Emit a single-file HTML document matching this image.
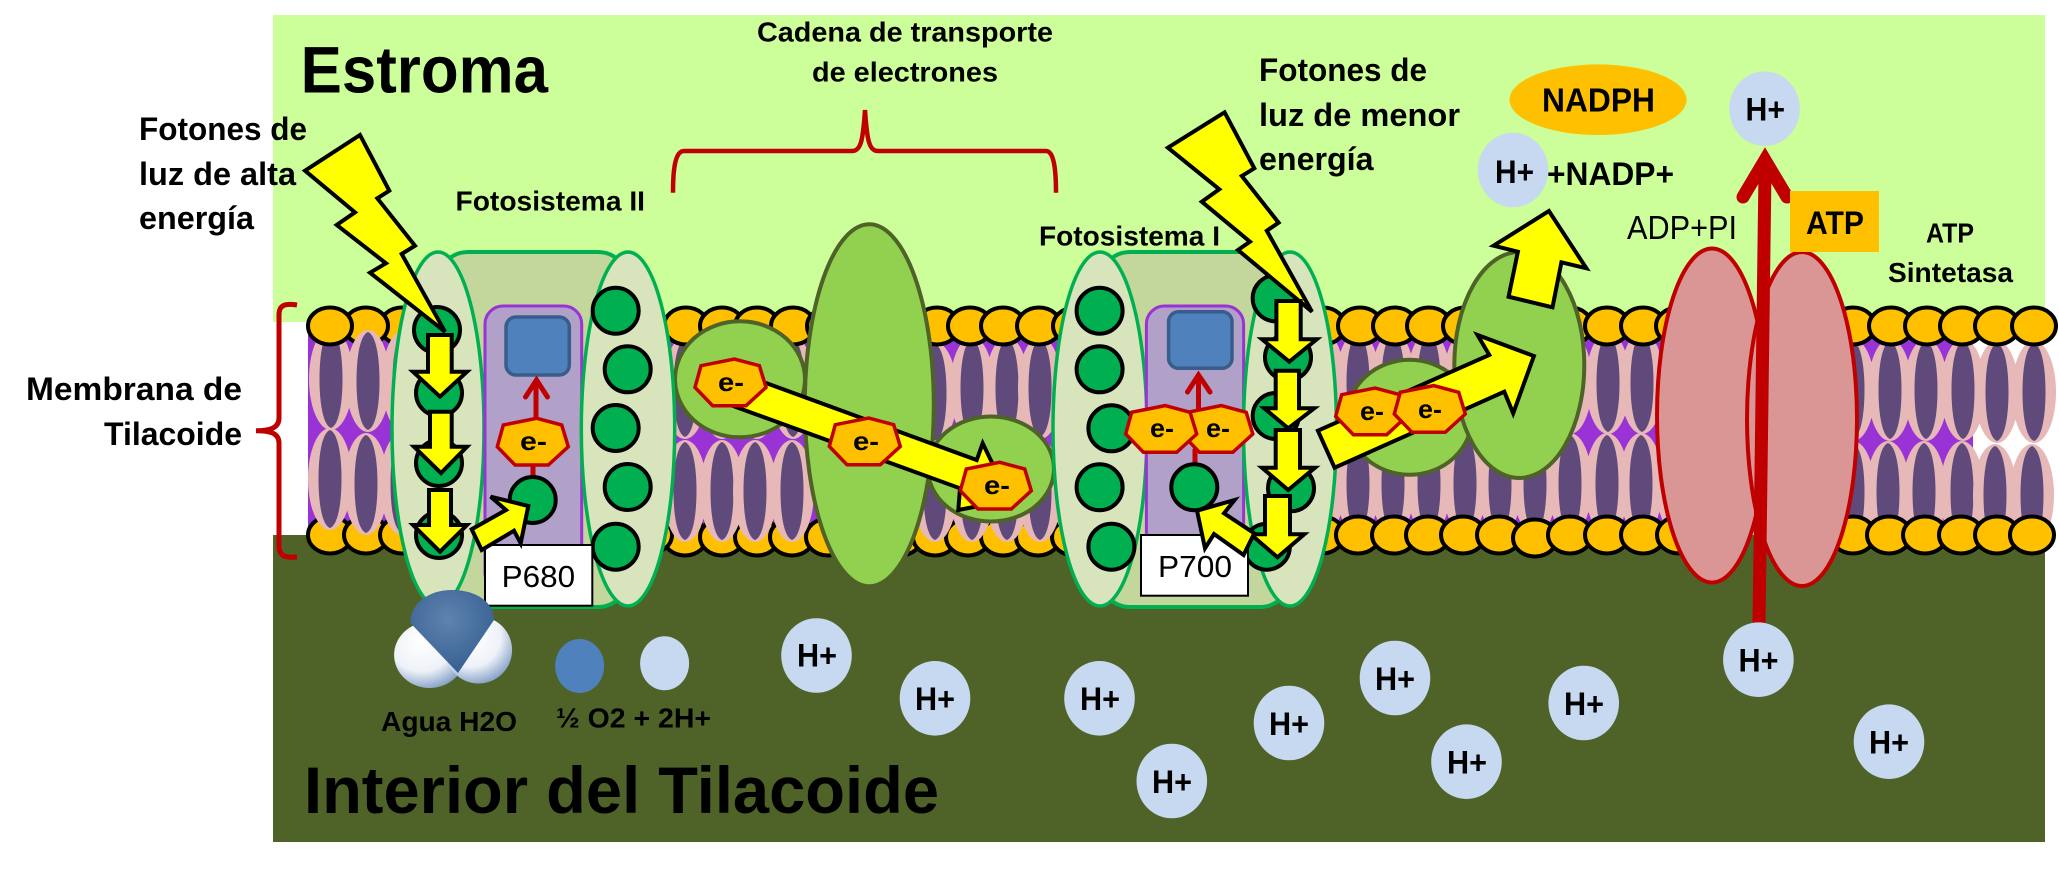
<!DOCTYPE html>
<html><head><meta charset="utf-8"><title>Membrana de Tilacoide</title>
<style>
html,body{margin:0;padding:0;background:#fff}
svg{display:block}
text{font-family:"Liberation Sans",sans-serif;fill:#000}
.b{font-weight:bold}
.s32{font-size:32px}.s28{font-size:28px}.s66{font-size:66px}.s26{font-size:26px}
</style></head><body>
<svg width="2059" height="879" viewBox="0 0 2059 879" xmlns="http://www.w3.org/2000/svg">
<defs>
<ellipse id="h" rx="22" ry="18.5" fill="#FFC000" stroke="#000" stroke-width="4"/>
<g id="L"><ellipse rx="22" ry="51" fill="#E6B9B8"/><path d="M0,-49 C8,-46 11.5,-24 11.5,0 C11.5,24 8,46 0,49 C-8,46 -11.5,24 -11.5,0 C-11.5,-24 -8,-46 0,-49 Z" fill="#604A7B"/></g>
<circle id="g" r="23" fill="#00B050" stroke="#000" stroke-width="4"/>
<polygon id="hp" points="-35.7,5.7 -29.7,-16 3.7,-22.7 28.7,-16 35.3,5.7 15.3,24 -18,24" fill="#FFC000" stroke="#C00000" stroke-width="3.5"/>
<ellipse id="hb" rx="35.3" ry="37.3" fill="#C6D9F1"/>
<radialGradient id="wh" cx="38%" cy="30%" r="75%"><stop offset="0" stop-color="#fff"/><stop offset=".6" stop-color="#EEF2F8"/><stop offset="1" stop-color="#7F9CC4"/></radialGradient>
<radialGradient id="ox" cx="45%" cy="35%" r="65%"><stop offset="0" stop-color="#5F83AE"/><stop offset="1" stop-color="#366092"/></radialGradient>
</defs>

<rect x="273" y="15" width="1772" height="307" fill="#CCFF99"/>
<rect x="273" y="535" width="1772" height="307" fill="#4F6228"/>
<rect x="308" y="335" width="1665" height="195" fill="#9933D6"/>

<!-- heads below lipids -->
<g>
<use href="#h" x="402" y="326"/><use href="#h" x="366" y="326"/>
<use href="#h" x="330" y="535"/><use href="#h" x="366" y="535"/><use href="#h" x="402" y="535"/><use href="#h" x="438" y="535"/>
<use href="#h" x="685" y="537"/><use href="#h" x="722" y="537"/><use href="#h" x="757" y="537"/><use href="#h" x="792" y="537"/><use href="#h" x="828" y="537"/>
<use href="#h" x="900" y="537"/><use href="#h" x="935" y="537"/><use href="#h" x="968" y="537"/><use href="#h" x="1003" y="537"/><use href="#h" x="1038" y="537"/><use href="#h" x="1074" y="537"/>
<use href="#h" x="650" y="535"/>
</g>

<!-- lipids -->
<g>
<use href="#L" x="331" y="379"/><use href="#L" x="368" y="381"/><use href="#L" x="404" y="381"/>
<use href="#L" x="330" y="479"/><use href="#L" x="366" y="484"/><use href="#L" x="402" y="484"/>
<use href="#L" x="685" y="388"/><use href="#L" x="722" y="388"/><use href="#L" x="757" y="388"/><use href="#L" x="793" y="388"/>
<use href="#L" x="685" y="491"/><use href="#L" x="722" y="491"/><use href="#L" x="755" y="491"/><use href="#L" x="792" y="491"/>
<use href="#L" x="935" y="393"/><use href="#L" x="972" y="388"/><use href="#L" x="1007" y="388"/><use href="#L" x="1040" y="388"/><use href="#L" x="1075" y="388"/>
<use href="#L" x="935" y="491"/><use href="#L" x="972" y="491"/><use href="#L" x="1007" y="491"/><use href="#L" x="1040" y="491"/><use href="#L" x="1075" y="491"/>
<use href="#L" x="1323" y="383"/><use href="#L" x="1358" y="383"/><use href="#L" x="1393" y="383"/><use href="#L" x="1429" y="383"/><use href="#L" x="1465" y="383"/><use href="#L" x="1500" y="383"/><use href="#L" x="1535" y="383"/><use href="#L" x="1570" y="383"/><use href="#L" x="1608" y="383"/><use href="#L" x="1642" y="383"/><use href="#L" x="1678" y="383"/>
<use href="#L" x="1323" y="484"/><use href="#L" x="1358" y="484"/><use href="#L" x="1393" y="484"/><use href="#L" x="1429" y="484"/><use href="#L" x="1465" y="484"/><use href="#L" x="1500" y="484"/><use href="#L" x="1535" y="484"/><use href="#L" x="1570" y="484"/><use href="#L" x="1607" y="484"/><use href="#L" x="1641" y="484"/><use href="#L" x="1678" y="484"/>
<use href="#L" x="1853" y="390"/><use href="#L" x="1890" y="390"/><use href="#L" x="1926" y="390"/><use href="#L" x="1963" y="390"/><use href="#L" x="1997" y="392"/><use href="#L" x="2034" y="392"/>
<use href="#L" x="1853" y="492"/><use href="#L" x="1888" y="492"/><use href="#L" x="1924" y="492"/><use href="#L" x="1962" y="492"/><use href="#L" x="1995" y="495"/><use href="#L" x="2032" y="495"/>
</g>

<!-- heads above lipids -->
<g>
<use href="#h" x="686" y="326"/><use href="#h" x="722" y="326"/><use href="#h" x="757" y="326"/><use href="#h" x="793" y="326"/><use href="#h" x="829" y="326"/>
<use href="#h" x="900" y="326"/><use href="#h" x="937" y="326"/><use href="#h" x="970" y="326"/><use href="#h" x="1003" y="326"/><use href="#h" x="1039" y="326"/><use href="#h" x="1075" y="326"/>
<use href="#h" x="1323" y="326"/><use href="#h" x="1360" y="326"/><use href="#h" x="1395" y="326"/><use href="#h" x="1429" y="326"/><use href="#h" x="1465" y="326"/><use href="#h" x="1500" y="326"/><use href="#h" x="1535" y="326"/><use href="#h" x="1570" y="326"/><use href="#h" x="1607" y="326"/><use href="#h" x="1643" y="326"/><use href="#h" x="1678" y="326"/>
<use href="#h" x="1715" y="326"/><use href="#h" x="1815" y="326"/>
<use href="#h" x="1853" y="326"/><use href="#h" x="1891" y="326"/><use href="#h" x="1927" y="326"/><use href="#h" x="1962" y="326"/><use href="#h" x="1997" y="326"/><use href="#h" x="2034" y="326"/>
<use href="#h" x="330" y="326"/>
<use href="#h" x="1322" y="535"/><use href="#h" x="1358" y="535"/><use href="#h" x="1394" y="535"/><use href="#h" x="1428" y="535"/><use href="#h" x="1463" y="535"/><use href="#h" x="1499" y="535"/><use href="#h" x="1535" y="538"/><use href="#h" x="1570" y="535"/><use href="#h" x="1607" y="535"/><use href="#h" x="1643" y="535"/><use href="#h" x="1679" y="535"/><use href="#h" x="1715" y="535"/>
<use href="#h" x="1815" y="535"/><use href="#h" x="1853" y="535"/><use href="#h" x="1889" y="535"/><use href="#h" x="1925" y="535"/><use href="#h" x="1961" y="535"/><use href="#h" x="1997" y="535"/><use href="#h" x="2032" y="535"/>
</g>

<!-- electron chain proteins -->
<ellipse cx="740" cy="379.3" rx="65" ry="58" fill="#92D050" stroke="#4F6228" stroke-width="4"/>
<ellipse cx="869.3" cy="405.3" rx="64.5" ry="181" fill="#92D050" stroke="#4F6228" stroke-width="4"/>
<ellipse cx="991" cy="469" rx="63" ry="52.5" fill="#92D050" stroke="#4F6228" stroke-width="4"/>
<polygon points="766.7,383.3 976.7,460 982.7,443.3 1010,500 958.3,510 960,488.3 735,406.7" fill="#FFFF00" stroke="#000" stroke-width="4"/>
<use href="#hp" x="730.7" y="381.7"/><use href="#hp" x="865" y="440.7"/><use href="#hp" x="996" y="485"/>
<text class="b s26" x="718" y="391" textLength="26" lengthAdjust="spacingAndGlyphs">e-</text>
<text class="b s26" x="853" y="450" textLength="26" lengthAdjust="spacingAndGlyphs">e-</text>
<text class="b s26" x="984" y="494" textLength="26" lengthAdjust="spacingAndGlyphs">e-</text>

<!-- Fotosistema II -->
<rect x="438" y="252" width="190" height="355" rx="30" fill="#C3D69B" stroke="#00B050" stroke-width="4"/>
<ellipse cx="438" cy="429" rx="46" ry="177" fill="#D8E4BC" stroke="#00B050" stroke-width="3.5"/>
<rect x="485" y="306" width="96.7" height="285" rx="18" fill="#B1A0C7" stroke="#9933D6" stroke-width="3"/>
<ellipse cx="628" cy="429" rx="46.7" ry="177" fill="#D8E4BC" stroke="#00B050" stroke-width="3.5"/>
<use href="#g" x="437" y="330"/><use href="#g" x="439" y="393"/><use href="#g" x="439" y="463"/><use href="#g" x="439" y="535"/>
<use href="#g" x="615.7" y="310.7"/><use href="#g" x="627.7" y="369.3"/><use href="#g" x="615.7" y="428"/><use href="#g" x="627.7" y="487"/><use href="#g" x="615.7" y="546.7"/>
<rect x="506" y="317" width="63.3" height="58" rx="10" fill="#4F81BD" stroke="#385D8A" stroke-width="3.5"/>
<path d="M533,478 L533,462 M536,420 L536,385 M525.5,397 L536.5,380 L547.5,397" fill="none" stroke="#C00000" stroke-width="5" stroke-linecap="round"/>
<use href="#hp" x="533" y="441"/>
<text class="b s26" x="520" y="450" textLength="27" lengthAdjust="spacingAndGlyphs">e-</text>
<use href="#g" x="532.7" y="500"/>
<polygon points="305,170.7 360,135 389.3,190.7 377.3,198.3 415,245.7 401.7,254 445,331.7 370,272.7 386,263.3 336.7,225 355,212.3" fill="#FFFF00" stroke="#000" stroke-width="4"/>
<polygon points="428,335 451.7,335 451.7,371.7 467,371.7 440,396.7 413,371.7 428,371.7" fill="#FFFF00" stroke="#000" stroke-width="4"/>
<polygon points="430,411.7 451.7,411.7 451.7,446.7 467,446.7 441,473 414,446.7 430,446.7" fill="#FFFF00" stroke="#000" stroke-width="4"/>
<polygon points="429,490 451,490 451,525 467,525 440,551.7 413,525 429,525" fill="#FFFF00" stroke="#000" stroke-width="4"/>
<rect x="485" y="545" width="107.3" height="60.7" fill="#fff" stroke="#000" stroke-width="2"/>
<polygon points="471.7,529.3 506,510 490.7,496.7 528.3,506 520.7,543.3 514,530.7 481.7,550" fill="#FFFF00" stroke="#000" stroke-width="4"/>
<text x="501.7" y="587" font-size="31" textLength="73.5" lengthAdjust="spacingAndGlyphs">P680</text>

<!-- Fotosistema I -->
<rect x="1100" y="252" width="190" height="355" rx="30" fill="#C3D69B" stroke="#00B050" stroke-width="4"/>
<ellipse cx="1100" cy="429" rx="47" ry="177" fill="#D8E4BC" stroke="#00B050" stroke-width="3.5"/>
<rect x="1146.4" y="306" width="97.2" height="285" rx="18" fill="#B1A0C7" stroke="#9933D6" stroke-width="3"/>
<ellipse cx="1290" cy="429" rx="46.5" ry="177" fill="#D8E4BC" stroke="#00B050" stroke-width="3.5"/>
<use href="#g" x="1099.6" y="310.7"/><use href="#g" x="1099.6" y="369.3"/><use href="#g" x="1111.4" y="428.3"/><use href="#g" x="1099.6" y="487.3"/><use href="#g" x="1111.4" y="546.7"/>
<use href="#g" x="1275.7" y="298.3"/><use href="#g" x="1288" y="357.3"/><use href="#g" x="1275.7" y="416"/><use href="#g" x="1291" y="488.3"/><use href="#g" x="1266.8" y="546.7"/>
<rect x="1168.6" y="311.7" width="63.4" height="56.6" rx="10" fill="#4F81BD" stroke="#385D8A" stroke-width="3.5"/>
<path d="M1195,470 L1195,450 M1198.5,415 L1198.5,380 M1187.5,392 L1198.5,375 L1210,392" fill="none" stroke="#C00000" stroke-width="5" stroke-linecap="round"/>
<use href="#hp" x="1217.5" y="428.3"/><use href="#hp" x="1161.4" y="428.3"/>
<text class="b s26" x="1150" y="437" textLength="24" lengthAdjust="spacingAndGlyphs">e-</text>
<text class="b s26" x="1206" y="437" textLength="24" lengthAdjust="spacingAndGlyphs">e-</text>
<use href="#g" x="1194.3" y="487.3"/>
<polygon points="1167.9,147.7 1224.6,112.3 1254.3,168.3 1241.8,176 1278.6,222.7 1266.8,230.7 1312,311.7 1238,250 1250,241.7 1201.8,201.7 1219.3,189.3" fill="#FFFF00" stroke="#000" stroke-width="4"/>
<polygon points="1276.4,301 1300.7,301 1300.7,339.3 1316.8,339.3 1289.3,361.7 1262,339.3 1276.4,339.3" fill="#FFFF00" stroke="#000" stroke-width="4"/>
<polygon points="1275.7,370.7 1299,370.7 1299,408.3 1314.3,408.3 1288.2,428.3 1264.3,408.3 1275.7,408.3" fill="#FFFF00" stroke="#000" stroke-width="4"/>
<polygon points="1275.7,430 1300,430 1300,467.7 1315,467.7 1288.2,490 1262,467.7 1275.7,467.7" fill="#FFFF00" stroke="#000" stroke-width="4"/>
<polygon points="1265,496 1290,496 1290,534.3 1304.3,534.3 1277.5,557.3 1250.7,534.3 1265,534.3" fill="#FFFF00" stroke="#000" stroke-width="4"/>
<rect x="1141" y="535" width="107" height="60.7" fill="#fff" stroke="#000" stroke-width="2"/>
<text x="1158" y="577" font-size="31" textLength="74" lengthAdjust="spacingAndGlyphs">P700</text>
<polygon points="1254.3,533.3 1224,513.3 1234.6,500 1197,510.7 1205,548.3 1214,534 1243.6,555" fill="#FFFF00" stroke="#000" stroke-width="4"/>

<!-- right protein complex -->
<ellipse cx="1409.6" cy="417.3" rx="62.5" ry="57.5" fill="#92D050" stroke="#4F6228" stroke-width="4"/>
<ellipse cx="1519.3" cy="365" rx="65" ry="113" fill="#92D050" stroke="#4F6228" stroke-width="4"/>
<polygon points="1317.9,430.7 1489.3,355 1477.5,335 1533.9,356 1513.2,413.3 1504.3,391.7 1334.6,467.7" fill="#FFFF00" stroke="#000" stroke-width="4"/>
<use href="#hp" x="1371.4" y="410.7"/><use href="#hp" x="1430" y="408.3"/>
<text class="b s26" x="1360" y="420" textLength="24" lengthAdjust="spacingAndGlyphs">e-</text>
<text class="b s26" x="1418" y="418" textLength="24" lengthAdjust="spacingAndGlyphs">e-</text>
<polygon points="1508.6,296.7 1517.9,251.7 1493.6,245.7 1548.9,211 1586.4,268.3 1561.4,262.3 1552.5,307.3" fill="#FFFF00" stroke="#000" stroke-width="4"/>

<!-- ATP synthase -->
<ellipse cx="1712" cy="415.5" rx="55" ry="167" fill="#D99694" stroke="#C00000" stroke-width="4"/>
<ellipse cx="1802" cy="419" rx="55" ry="167" fill="#D99694" stroke="#C00000" stroke-width="4"/>
<line x1="1759" y1="625" x2="1765" y2="170" stroke="#C00000" stroke-width="13"/>
<polyline points="1743,197 1765,160 1787,197" fill="none" stroke="#C00000" stroke-width="13" stroke-linecap="round" stroke-linejoin="miter" stroke-miterlimit="10"/>
<rect x="1790" y="191" width="89" height="61" fill="#FFC000"/>
<text class="b" font-size="32" x="1806" y="234" textLength="58" lengthAdjust="spacingAndGlyphs">ATP</text>
<text x="1627" y="239" font-size="33" textLength="110" lengthAdjust="spacingAndGlyphs">ADP+PI</text>
<text class="b s28" x="1926" y="242.5" textLength="48" lengthAdjust="spacingAndGlyphs">ATP</text>
<text class="b s28" x="1888" y="282" textLength="125" lengthAdjust="spacingAndGlyphs">Sintetasa</text>

<!-- braces -->
<path d="M673,192.7 C673,170 675,151 684,151 L852,151 C861,151 863,140 865,110 C867,140 869,151 878,151 L1046,151 C1054,151 1056,170 1056,192.7" fill="none" stroke="#C00000" stroke-width="4.5"/>
<path d="M297,305 C285,303 279,305 279,315 L279,418 C279,428 270,430.7 256,430.7 C270,430.7 279,433 279,443 L279,546 C279,556 285,558 297,557" fill="none" stroke="#C00000" stroke-width="5"/>

<!-- top items -->
<ellipse cx="1598" cy="99.7" rx="88.6" ry="35.3" fill="#FFC000"/>
<text class="b" font-size="33" x="1542" y="111.7" textLength="113" lengthAdjust="spacingAndGlyphs">NADPH</text>
<use href="#hb" x="1513" y="170"/>
<text class="b s32" x="1495" y="183" textLength="39" lengthAdjust="spacingAndGlyphs">H+</text>
<text class="b s32" x="1547" y="185" textLength="127" lengthAdjust="spacingAndGlyphs">+NADP+</text>
<use href="#hb" x="1764.6" y="108.7"/>
<text class="b s32" x="1745.5" y="120.7" textLength="39.5" lengthAdjust="spacingAndGlyphs">H+</text>

<!-- water & oxygen -->
<ellipse cx="429.6" cy="655" rx="35.5" ry="33" fill="url(#wh)"/>
<ellipse cx="478.6" cy="650" rx="33.5" ry="33.5" fill="url(#wh)"/>
<path d="M410.4,623 C410,604 428,590 452,590 C476,590 494,602 494,620 L458,673 Z" fill="url(#ox)"/>
<ellipse cx="579.6" cy="666" rx="24.5" ry="27" fill="#4F81BD"/>
<ellipse cx="664.6" cy="663.3" rx="24.5" ry="27" fill="#C6D9F1"/>
<text class="b s28" x="381" y="731" textLength="136" lengthAdjust="spacingAndGlyphs">Agua H2O</text>
<text class="b s28" x="556" y="727.7" textLength="155" lengthAdjust="spacingAndGlyphs">½ O2 + 2H+</text>

<!-- H+ lower -->
<use href="#hb" x="816.5" y="655.5"/><text class="b s32" x="797" y="666.7" textLength="40" lengthAdjust="spacingAndGlyphs">H+</text>
<use href="#hb" x="935" y="698.3"/><text class="b s32" x="915" y="710" textLength="40" lengthAdjust="spacingAndGlyphs">H+</text>
<use href="#hb" x="1099.5" y="698.3"/><text class="b s32" x="1080" y="710" textLength="40" lengthAdjust="spacingAndGlyphs">H+</text>
<use href="#hb" x="1171.8" y="781"/><text class="b s32" x="1152" y="793" textLength="40" lengthAdjust="spacingAndGlyphs">H+</text>
<use href="#hb" x="1289" y="723"/><text class="b s32" x="1269" y="735" textLength="40" lengthAdjust="spacingAndGlyphs">H+</text>
<use href="#hb" x="1395" y="678"/><text class="b s32" x="1375" y="690" textLength="40" lengthAdjust="spacingAndGlyphs">H+</text>
<use href="#hb" x="1466.5" y="761.7"/><text class="b s32" x="1447" y="773.5" textLength="40" lengthAdjust="spacingAndGlyphs">H+</text>
<use href="#hb" x="1583.7" y="703"/><text class="b s32" x="1564" y="715" textLength="40" lengthAdjust="spacingAndGlyphs">H+</text>
<use href="#hb" x="1758.4" y="659.7"/><text class="b s32" x="1738.5" y="671.5" textLength="40" lengthAdjust="spacingAndGlyphs">H+</text>
<use href="#hb" x="1889" y="741.7"/><text class="b s32" x="1869" y="753.5" textLength="40" lengthAdjust="spacingAndGlyphs">H+</text>

<!-- labels -->
<text class="b s66" x="300.6" y="92.7" textLength="247.4" lengthAdjust="spacingAndGlyphs">Estroma</text>
<text class="b s66" x="304" y="813" textLength="635" lengthAdjust="spacingAndGlyphs">Interior del Tilacoide</text>
<text class="b s28" x="757" y="41.7" textLength="296" lengthAdjust="spacingAndGlyphs">Cadena de transporte</text>
<text class="b s28" x="812" y="81.7" textLength="186" lengthAdjust="spacingAndGlyphs">de electrones</text>
<text class="b s28" x="455.5" y="210.7" textLength="189.5" lengthAdjust="spacingAndGlyphs">Fotosistema II</text>
<text class="b s28" x="1039" y="245.5" textLength="181" lengthAdjust="spacingAndGlyphs">Fotosistema I</text>
<text class="b s32" x="139" y="140" textLength="168" lengthAdjust="spacingAndGlyphs">Fotones de</text>
<text class="b s32" x="139" y="185" textLength="157" lengthAdjust="spacingAndGlyphs">luz de alta</text>
<text class="b s32" x="139" y="229" textLength="115" lengthAdjust="spacingAndGlyphs">energía</text>
<text class="b s32" x="26" y="400" textLength="216" lengthAdjust="spacingAndGlyphs">Membrana de</text>
<text class="b s32" x="104" y="445" textLength="138" lengthAdjust="spacingAndGlyphs">Tilacoide</text>
<text class="b s32" x="1259" y="81" textLength="168" lengthAdjust="spacingAndGlyphs">Fotones de</text>
<text class="b s32" x="1259" y="126" textLength="201" lengthAdjust="spacingAndGlyphs">luz de menor</text>
<text class="b s32" x="1259" y="170" textLength="114.5" lengthAdjust="spacingAndGlyphs">energía</text>
</svg>
</body></html>
